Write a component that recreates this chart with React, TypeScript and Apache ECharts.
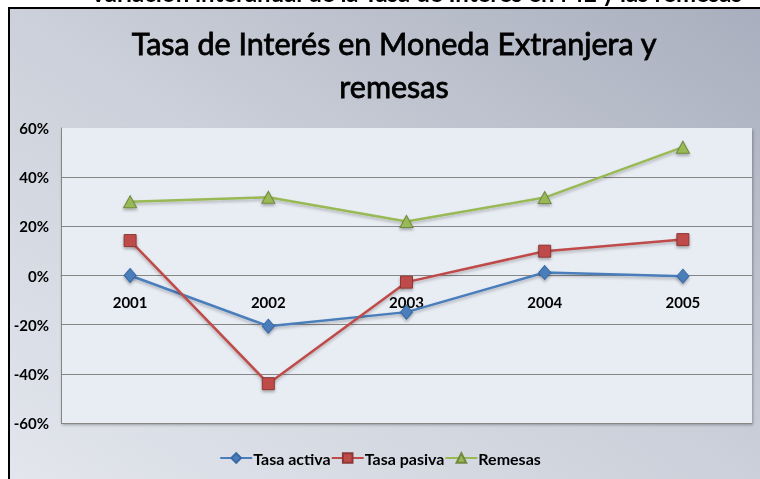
import React, { useEffect, useRef } from "react";
import * as echarts from "echarts";

const years = ["2001", "2002", "2003", "2004", "2005"];
const tasaActiva = [0, -20.6, -14.9, 1.2, -0.3];
const tasaPasiva = [14.2, -44, -2.7, 9.9, 14.6];
const remesas = [30, 31.8, 22, 31.7, 52.2];
const seriesNames = ["Tasa activa", "Tasa pasiva", "Remesas"];
const titleLines = ["Tasa de Interés en Moneda Extranjera y", "remesas"];
const topCaption = "Variación interanual de la Tasa de Interés en ME y las remesas";

const FONT = "Lato";

export default function App() {
  const ref = useRef<HTMLDivElement>(null);
  useEffect(() => {
    if (!ref.current) return;
    const chart = echarts.init(ref.current, null, { renderer: "svg" });
    const mkSeries = (
      name: string,
      data: number[],
      color: string,
      border: string,
      symbol: string,
      size: number | number[]
    ) => ({
      name,
      type: "line",
      data,
      symbol,
      symbolSize: size,
      lineStyle: {
        color,
        width: 2.5,
        shadowColor: "rgba(0,0,0,0.25)",
        shadowBlur: 3,
        shadowOffsetY: 2,
      },
      itemStyle: {
        color,
        borderColor: border,
        borderWidth: 1,
        shadowColor: "rgba(0,0,0,0.3)",
        shadowBlur: 3,
        shadowOffsetY: 2,
      },
      emphasis: { disabled: true },
      z: 3,
    });
    const gridHeight = 295;
    chart.setOption({
      animation: false,
      graphic: [
        {
          type: "rect",
          z: -10,
          silent: true,
          shape: { x: 9, y: 8, width: 760, height: 480 },
          style: {
            fill: new echarts.graphic.LinearGradient(1, 0, 0, 1, [
              { offset: 0, color: "#a8aebd" },
              { offset: 0.5, color: "#ccd0da" },
              { offset: 1, color: "#e3e6ed" },
            ]),
            stroke: "#000",
            lineWidth: 2,
          },
        },
        {
          type: "text",
          z: 10,
          x: 416,
          y: 4,
          style: {
            text: topCaption,
            fill: "#000",
            font: `bold 24px ${FONT}`,
            textAlign: "center",
            textVerticalAlign: "bottom",
          },
        },
      ],
      title: {
        text: titleLines.join("\n"),
        left: 389,
        textAlign: "center",
        top: 16,
        textStyle: {
          fontFamily: FONT,
          fontSize: 30.5,
          fontWeight: "normal",
          color: "#000",
          lineHeight: 43,
          textBorderColor: "#000",
          textBorderWidth: 0.8,
        },
      },
      legend: {
        bottom: 8,
        left: "center",
        itemWidth: 32,
        itemHeight: 12,
        itemGap: 0,
        data: seriesNames,
        textStyle: {
          fontFamily: FONT,
          fontSize: 16,
          fontWeight: "bold",
          color: "#000",
          padding: [0, 0, 0, -4],
        },
      },
      grid: {
        left: 61,
        top: 128,
        width: 691,
        height: gridHeight,
        show: true,
        backgroundColor: "#e8ecf3",
        borderWidth: 0,
        shadowColor: "rgba(0,0,0,0.3)",
        shadowBlur: 3,
        shadowOffsetX: 1,
        shadowOffsetY: 2,
      },
      xAxis: {
        type: "category",
        data: years,
        boundaryGap: true,
        position: "bottom",
        offset: -gridHeight / 2,
        axisLine: { show: true, onZero: false, lineStyle: { color: "#868686", width: 1 } },
        axisTick: { show: false },
        axisLabel: {
          margin: 19,
          fontFamily: FONT,
          fontSize: 15,
          fontWeight: "bold",
          color: "#000",
        },
        splitLine: { show: false },
      },
      yAxis: {
        type: "value",
        min: -60,
        max: 60,
        interval: 20,
        axisLine: { show: true, onZero: false, lineStyle: { color: "#868686", width: 1 } },
        axisTick: { show: false },
        axisLabel: {
          margin: 12,
          formatter: "{value}%",
          fontFamily: FONT,
          fontSize: 15,
          fontWeight: "bold",
          color: "#000",
        },
        splitLine: {
          show: true,
          lineStyle: {
            color: ["#868686", "#868686", "#868686", "#868686", "#868686", "#868686", "rgba(0,0,0,0)"],
            width: 1,
          },
        },
      },
      series: [
        mkSeries(seriesNames[0], tasaActiva, "#4a7ebb", "#3a6aa5", "diamond", [12, 14]),
        mkSeries(seriesNames[1], tasaPasiva, "#be4b48", "#8c3836", "rect", 12),
        mkSeries(seriesNames[2], remesas, "#98b954", "#71893f", "triangle", [13, 12]),
      ],
    });
    return () => chart.dispose();
  }, []);
  return (
    <div
      ref={ref}
      style={{ position: "fixed", left: 0, top: 0, width: 760, height: 479 }}
    />
  );
}
